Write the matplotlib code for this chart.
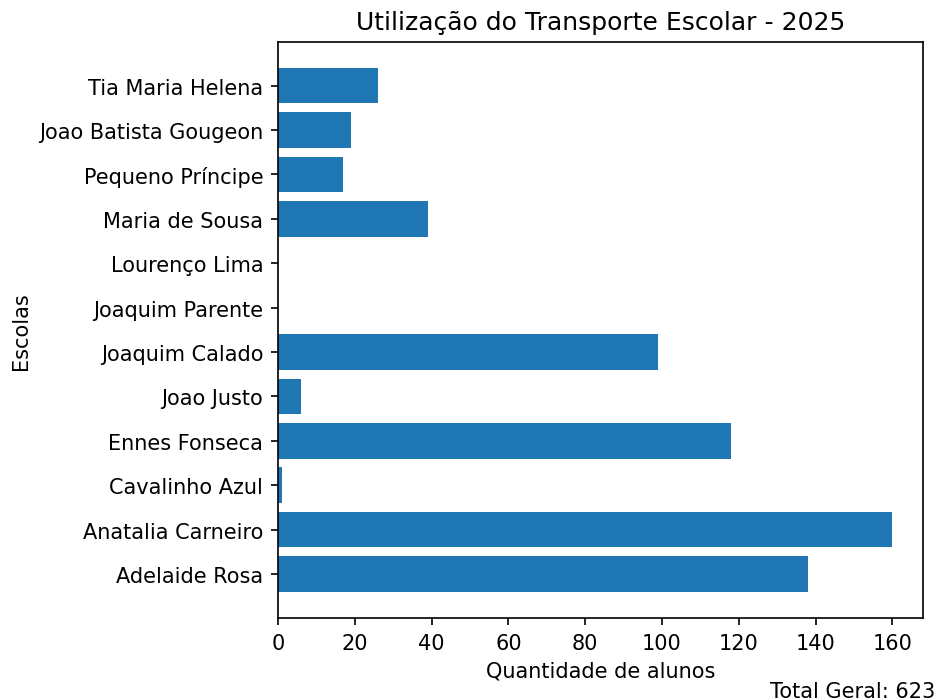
import matplotlib.pyplot as plt

escolas = ["Adelaide Rosa", "Anatalia Carneiro", "Cavalinho Azul", "Ennes Fonseca",
           "Joao Justo", "Joaquim Calado", "Joaquim Parente", "Lourenço Lima",
           "Maria de Sousa", "Pequeno Príncipe", "Joao Batista Gougeon", "Tia Maria Helena"]
alunos = [138, 160, 1, 118, 6, 99, 0, 0, 39, 17, 19, 26]

fig, ax = plt.subplots(figsize=(939 / 150, 701 / 150), dpi=150)
fig.subplots_adjust(left=0.296, right=0.983, top=0.939, bottom=0.117)

ax.barh(escolas, alunos)
ax.set_title("Utilização do Transporte Escolar - 2025")
ax.set_xlabel("Quantidade de alunos")
ax.set_ylabel("Escolas")

fig.text(0.996, -0.002, f"Total Geral: {sum(alunos)}", ha="right", va="bottom")

plt.savefig("out.png")
